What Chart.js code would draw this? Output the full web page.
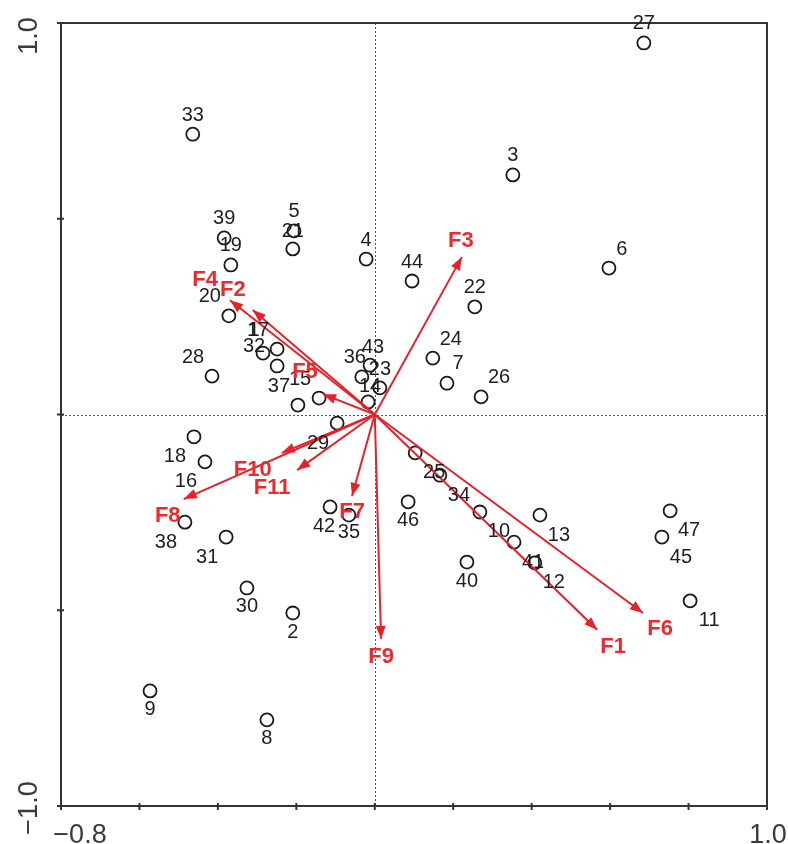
<!DOCTYPE html>
<html>
<head>
<meta charset="utf-8">
<script src="https://cdn.jsdelivr.net/npm/chart.js@4.4.1/dist/chart.umd.min.js"></script>
<style>
html, body { margin: 0; padding: 0; background: #fff; }
canvas { display: block; }
</style>
</head>
<body>
<canvas id="biplot" width="788" height="844"></canvas>
<script>
// site scores on the two ordination axes
var siteLabels = ['1','2','3','4','5','6','7','8','9','10','11','12','13','14','15','16',
  '17','18','19','20','21','22','23','24','25','26','27','28','29','30','31','32',
  '33','34','35','36','37','38','39','40','41','42','43','44','45','46','47'];
var siteX = [-0.285, -0.209, 0.352, -0.022, -0.206, 0.597, 0.184, -0.275, -0.573, 0.268,
  0.804, 0.408, 0.421, -0.017, -0.142, -0.433, -0.249, -0.461, -0.367, -0.372,
  -0.209, 0.255, 0.013, 0.148, 0.103, 0.271, 0.686, -0.415, -0.096, -0.326,
  -0.379, -0.249, -0.464, 0.166, -0.066, -0.033, -0.196, -0.484, -0.384, 0.235,
  0.355, -0.114, -0.012, 0.095, 0.732, 0.085, 0.753];
var siteY = [0.157, -0.507, 0.612, 0.397, 0.469, 0.374, 0.080, -0.780, -0.706, -0.249,
  -0.476, -0.379, -0.257, 0.032, 0.042, -0.121, 0.167, -0.057, 0.382, 0.252,
  0.423, 0.275, 0.068, 0.144, -0.098, 0.045, 0.949, 0.098, -0.022, -0.443,
  -0.313, 0.124, 0.716, -0.155, -0.257, 0.096, 0.024, -0.275, 0.451, -0.377,
  -0.326, -0.236, 0.126, 0.341, -0.313, -0.223, -0.246];

// factor loadings (arrows)
var factorNames = ['F1','F2','F3','F4','F5','F6','F7','F8','F9','F10','F11'];
var factorX = [0.567, -0.311, 0.222, -0.369, -0.132, 0.684, -0.058, -0.487, 0.016, -0.237, -0.198];
var factorY = [-0.550, 0.267, 0.402, 0.292, 0.052, -0.507, -0.208, -0.216, -0.573, -0.098, -0.142];

// axes
var xTicks = [-0.8, -0.6, -0.4, -0.2, 0, 0.2, 0.4, 0.6, 0.8, 1.0];
var yTicks = [-1.0, -0.5, 0, 0.5, 1.0];
var xTickValues = [-0.8, 1.0];
var xTickText = ['\u22120.8', '1.0'];
var yTickValues = [1.0, -1.0];
var yTickText = ['1.0', '\u22121.0'];

// label placement (pixels from the mark)
var A = [0, -19], B = [0, 19], UL = [-19, -19], UR = [18, -19], LL = [-19, 20], LR = [19, 20];
var sitePlace = {
  '1': [-9, -23], '2': B, '3': A, '4': A, '5': A, '6': [13, -19], '7': [11, -20], '8': B, '9': B,
  '10': LR, '11': LR, '12': LR, '13': LR, '14': [2, -15], '15': UL, '16': LL, '17': UL, '18': LL,
  '19': A, '20': UL, '21': [0, -17], '22': A, '23': [0, -18], '24': UR, '25': LR, '26': UR,
  '27': A, '28': UL, '29': LL, '30': B, '31': LL, '32': [-23, -19], '33': A, '34': LR,
  '35': [0, 17], '36': [-7, -19], '37': UL, '38': LL, '39': A, '40': B, '41': LR,
  '42': [-6, 20], '43': [3, -18], '44': A, '45': LR, '46': B, '47': LR
};
var factorPlace = {
  F1: [16, 17], F2: [-20, -20], F3: [-1, -16], F4: [-25, -20], F5: [-18, -22], F6: [17, 16],
  F7: [0, 16], F8: [-16, 17], F9: [0, 18], F10: [-29, 17], F11: [-25, 18]
};

var RED = '#e8202a';
var FONT = '"Liberation Sans", Arial, Helvetica, sans-serif';

var sitePoints = siteX.map(function(x, i) { return { x: x, y: siteY[i] }; });

var datasets = [{
  label: 'sites',
  data: sitePoints,
  pointRadius: 6.5,
  pointBorderWidth: 1.8,
  pointBorderColor: '#1a1a1a',
  pointBackgroundColor: 'rgba(0,0,0,0)',
  showLine: false,
  order: 10,
  clip: false
}];
factorNames.forEach(function(name, i) {
  datasets.push({
    label: name,
    data: [{ x: 0, y: 0 }, { x: factorX[i], y: factorY[i] }],
    showLine: true,
    borderColor: RED,
    borderWidth: 2,
    pointRadius: 0,
    order: 1,
    clip: false
  });
});

var biplotDecor = {
  id: 'biplotDecor',
  beforeDatasetsDraw: function(chart) {
    var ctx = chart.ctx, a = chart.chartArea, sx = chart.scales.x, sy = chart.scales.y;
    ctx.save();
    // dotted zero lines
    ctx.strokeStyle = '#555';
    ctx.lineWidth = 1;
    ctx.setLineDash([2, 2]);
    var x0 = Math.round(sx.getPixelForValue(0)) + 0.5;
    var y0 = Math.round(sy.getPixelForValue(0)) + 0.5;
    ctx.beginPath();
    ctx.moveTo(x0, a.top); ctx.lineTo(x0, a.bottom);
    ctx.moveTo(a.left, y0); ctx.lineTo(a.right, y0);
    ctx.stroke();
    ctx.setLineDash([]);

    // frame and ticks
    ctx.strokeStyle = '#333';
    ctx.lineWidth = 2;
    ctx.strokeRect(a.left, a.top, a.right - a.left, a.bottom - a.top);
    ctx.beginPath();
    xTicks.forEach(function(v) {
      var px = sx.getPixelForValue(v);
      ctx.moveTo(px, a.bottom - 3); ctx.lineTo(px, a.bottom + 4);
    });
    yTicks.forEach(function(v) {
      var py = sy.getPixelForValue(v);
      ctx.moveTo(a.left - 4, py); ctx.lineTo(a.left + 3, py);
    });
    ctx.stroke();

    // tick labels (ends only)
    ctx.fillStyle = '#3a3a3a';
    ctx.font = '27px ' + FONT;
    ctx.textAlign = 'center';
    ctx.textBaseline = 'alphabetic';
    var xShift = [19, 1];
    xTickValues.forEach(function(v, i) {
      ctx.fillText(xTickText[i], sx.getPixelForValue(v) + xShift[i], 843);
    });
    var yShift = [13, 2];
    yTickValues.forEach(function(v, i) {
      ctx.save();
      ctx.translate(37, sy.getPixelForValue(v) + yShift[i]);
      ctx.rotate(-Math.PI / 2);
      ctx.fillText(yTickText[i], 0, 0);
      ctx.restore();
    });
    ctx.restore();
  },
  afterDatasetsDraw: function(chart) {
    var ctx = chart.ctx, sx = chart.scales.x, sy = chart.scales.y;
    var ox = sx.getPixelForValue(0), oy = sy.getPixelForValue(0);
    ctx.save();

    // arrow heads
    ctx.fillStyle = RED;
    factorNames.forEach(function(name, i) {
      var tx = sx.getPixelForValue(factorX[i]), ty = sy.getPixelForValue(factorY[i]);
      var dx = tx - ox, dy = ty - oy, len = Math.sqrt(dx * dx + dy * dy);
      var ux = dx / len, uy = dy / len;
      var bx = tx - ux * 13, by = ty - uy * 13;
      ctx.beginPath();
      ctx.moveTo(tx, ty);
      ctx.lineTo(bx - uy * 5, by + ux * 5);
      ctx.lineTo(bx + uy * 5, by - ux * 5);
      ctx.closePath();
      ctx.fill();
    });

    // site numbers
    ctx.textAlign = 'center';
    ctx.textBaseline = 'middle';
    ctx.fillStyle = '#1e1e1e';
    ctx.font = '20px ' + FONT;
    var meta = chart.getDatasetMeta(0);
    meta.data.forEach(function(pt, i) {
      var off = sitePlace[siteLabels[i]] || A;
      ctx.fillText(siteLabels[i], pt.x + off[0], pt.y + off[1]);
    });

    // factor names
    ctx.fillStyle = '#ec2a2e';
    ctx.font = 'bold 22px ' + FONT;
    factorNames.forEach(function(name, i) {
      var off = factorPlace[name];
      ctx.fillText(name, sx.getPixelForValue(factorX[i]) + off[0], sy.getPixelForValue(factorY[i]) + off[1]);
    });
    ctx.restore();
  }
};

new Chart(document.getElementById('biplot').getContext('2d'), {
  type: 'scatter',
  data: { datasets: datasets },
  options: {
    responsive: false,
    animation: false,
    devicePixelRatio: 1,
    layout: { padding: { left: 61, right: 21, top: 23, bottom: 38 } },
    scales: {
      x: { type: 'linear', min: -0.8, max: 1.0, display: false },
      y: { type: 'linear', min: -1.0, max: 1.0, display: false }
    },
    plugins: { legend: { display: false }, tooltip: { enabled: false } }
  },
  plugins: [biplotDecor]
});
</script>
</body>
</html>
